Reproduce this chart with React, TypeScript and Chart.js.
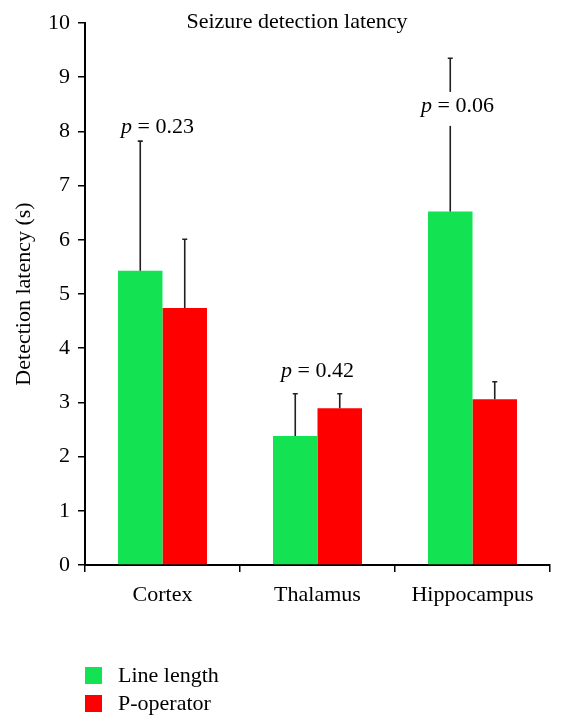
import React, { useEffect, useRef } from 'react';
import { Chart, registerables } from 'chart.js';

Chart.register(...registerables);

const categories = ['Cortex', 'Thalamus', 'Hippocampus'];
const seriesNames = ['Line length', 'P-operator'];
const lineLength = [5.43, 2.38, 6.52];
const lineLengthErr = [2.39, 0.78, 2.83];
const pOperator = [4.74, 2.89, 3.06];
const pOperatorErr = [1.27, 0.27, 0.32];
const pValues = ['0.23', '0.42', '0.06'];
const pLabelY = [7.97, 3.47, 8.36];
const pLabelDx = [-5, 0, -15];
const pLabelBoxed = [false, false, true];
const yMin = 0;
const yMax = 10;
const titleText = 'Seizure detection latency';
const yTitle = 'Detection latency (s)';

const GREEN = '#13e253';
const RED = '#ff0000';
const INK = '#231f20';
const FAMILY = '"Liberation Serif", "Times New Roman", serif';
const FS = 22;

const errorBarPlugin = {
  id: 'errorBars',
  afterDatasetsDraw(chart: any) {
    const ctx = chart.ctx;
    const ys = chart.scales.y;
    chart.data.datasets.forEach((ds: any, di: number) => {
      const meta = chart.getDatasetMeta(di);
      meta.data.forEach((bar: any, i: number) => {
        const x = bar.x;
        const base = ys.getPixelForValue(ds.data[i]);
        const top = ys.getPixelForValue(ds.data[i] + ds.errors[i]);
        ctx.save();
        ctx.strokeStyle = INK;
        ctx.lineWidth = 1.6;
        ctx.beginPath();
        ctx.moveTo(x, base);
        ctx.lineTo(x, top);
        ctx.moveTo(x - 2.5, top);
        ctx.lineTo(x + 2.5, top);
        ctx.stroke();
        ctx.restore();
      });
    });
  },
};

const annotationPlugin = {
  id: 'annotations',
  afterDraw(chart: any) {
    const ctx = chart.ctx;
    const xs = chart.scales.x;
    const ys = chart.scales.y;
    ctx.save();
    ctx.fillStyle = '#000';
    ctx.textBaseline = 'alphabetic';
    pValues.forEach((pv, i) => {
      const cx = xs.getPixelForValue(i) + pLabelDx[i];
      const by = ys.getPixelForValue(pLabelY[i]);
      ctx.font = `italic ${FS}px ${FAMILY}`;
      const wp = ctx.measureText('p').width;
      ctx.font = `${FS}px ${FAMILY}`;
      const rest = ' = ' + pv;
      const wr = ctx.measureText(rest).width;
      const total = wp + wr;
      const x0 = cx - total / 2;
      if (pLabelBoxed[i]) {
        ctx.fillStyle = '#fff';
        ctx.fillRect(x0 - 2, by - 20, total + 4, 34);
        ctx.fillStyle = '#000';
      }
      ctx.textAlign = 'left';
      ctx.font = `italic ${FS}px ${FAMILY}`;
      ctx.fillText('p', x0, by);
      ctx.font = `${FS}px ${FAMILY}`;
      ctx.fillText(rest, x0 + wp, by);
    });
    ctx.textAlign = 'center';
    ctx.textBaseline = 'middle';
    ctx.font = `${FS}px ${FAMILY}`;
    ctx.fillText(titleText, chart.width / 2 + 15, 22);
    const colors = [GREEN, RED];
    seriesNames.forEach((name, i) => {
      const bx = 85;
      const byy = 667 + i * 28;
      ctx.fillStyle = colors[i];
      ctx.fillRect(bx, byy, 17, 17);
      ctx.fillStyle = '#000';
      ctx.textAlign = 'left';
      ctx.textBaseline = 'middle';
      ctx.font = `${FS}px ${FAMILY}`;
      ctx.fillText(name, 118, byy + 9);
    });
    ctx.restore();
  },
};

export default function App() {
  const ref = useRef<HTMLCanvasElement | null>(null);

  useEffect(() => {
    if (!ref.current) return;
    const chart = new Chart(ref.current, {
      type: 'bar',
      data: {
        labels: categories,
        datasets: [
          {
            label: seriesNames[0],
            data: lineLength,
            errors: lineLengthErr,
            backgroundColor: GREEN,
            borderWidth: 0,
            categoryPercentage: 0.574,
            barPercentage: 1,
          } as any,
          {
            label: seriesNames[1],
            data: pOperator,
            errors: pOperatorErr,
            backgroundColor: RED,
            borderWidth: 0,
            categoryPercentage: 0.574,
            barPercentage: 1,
          } as any,
        ],
      },
      options: {
        animation: false,
        responsive: true,
        maintainAspectRatio: false,
        layout: { padding: { top: 23, right: 14, left: 0, bottom: 0 } },
        plugins: {
          legend: { display: false },
          title: { display: false },
          tooltip: { enabled: false },
        },
        scales: {
          x: {
            offset: true,
            afterFit: (s: any) => {
              s.height = 163;
            },
            border: { display: true, color: '#000', width: 2 },
            grid: {
              offset: true,
              drawOnChartArea: false,
              drawTicks: true,
              tickLength: 7,
              color: '#000',
              lineWidth: 1.5,
            },
            ticks: {
              color: '#000',
              padding: 10,
              font: { family: FAMILY, size: FS },
            },
          },
          y: {
            min: yMin,
            max: yMax,
            afterFit: (s: any) => {
              s.width = 85;
            },
            border: { display: true, color: '#000', width: 2 },
            grid: {
              drawOnChartArea: false,
              drawTicks: true,
              tickLength: 7,
              color: '#000',
              lineWidth: 1.5,
            },
            ticks: {
              stepSize: 1,
              color: '#000',
              padding: 8,
              font: { family: FAMILY, size: FS },
            },
            title: {
              display: true,
              text: yTitle,
              color: '#000',
              font: { family: FAMILY, size: FS },
              padding: { top: 11, bottom: 0 },
            },
          },
        },
      },
      plugins: [errorBarPlugin, annotationPlugin],
    });
    return () => chart.destroy();
  }, []);

  return (
    <div style={{ position: 'fixed', left: 0, top: 0, width: 564, height: 728, background: '#fff' }}>
      <canvas ref={ref} />
    </div>
  );
}
